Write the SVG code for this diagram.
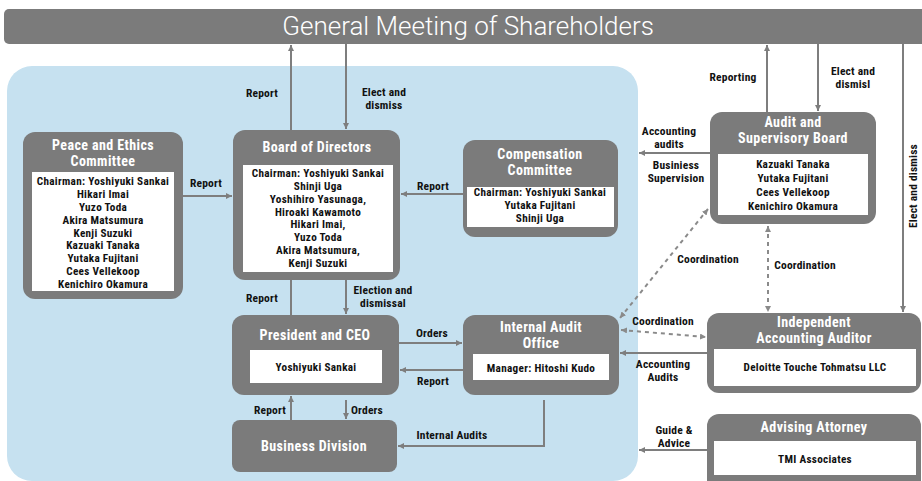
<svg xmlns="http://www.w3.org/2000/svg" width="922" height="481" viewBox="0 0 922 481">
<style>
.box{fill:#7b7b7b}
.in{fill:#ffffff}
.t{font-family:"Roboto Condensed","DejaVu Sans Condensed","Liberation Sans Narrow",Roboto,sans-serif;font-weight:bold;fill:#ffffff;font-size:14px;letter-spacing:0.4px;text-anchor:middle}
.m{font-family:"Roboto Condensed","DejaVu Sans Condensed","Liberation Sans Narrow",Roboto,sans-serif;font-weight:bold;fill:#111111;font-size:11.2px;letter-spacing:0.3px;text-anchor:middle}
.l{font-family:"Roboto Condensed","DejaVu Sans Condensed","Liberation Sans Narrow",Roboto,sans-serif;font-weight:bold;fill:#111111;font-size:11.5px;letter-spacing:0.2px;text-anchor:middle}
.c{stroke:#7e7e7e;stroke-width:2;fill:none}
.d{stroke:#8a8a8a;stroke-width:2;fill:none;stroke-dasharray:4 4}
</style>
<defs>
<marker id="a" viewBox="0 0 6 6" refX="6" refY="3" markerWidth="6" markerHeight="6" markerUnits="userSpaceOnUse" orient="auto"><path d="M0,0 L6,3 L0,6 z" fill="#7e7e7e"/></marker>
<marker id="ad" viewBox="0 0 6 6" refX="6" refY="3" markerWidth="6" markerHeight="6" markerUnits="userSpaceOnUse" orient="auto-start-reverse"><path d="M0,0 L6,3 L0,6 z" fill="#8a8a8a"/></marker>
</defs>
<rect x="7" y="66" width="631" height="415" rx="25" fill="#c6e1f0"/>
<g id="gm">
<rect x="4" y="9" width="930" height="35" rx="5" class="box"/>
<text x="468" y="35" font-family="Roboto,'Open Sans',sans-serif" font-weight="300" font-size="26" fill="#ffffff" text-anchor="middle">General Meeting of Shareholders</text>
</g>
<g id="connectors">
<line x1="291" y1="130" x2="291" y2="45" class="c" marker-end="url(#a)"/>
<line x1="346" y1="44" x2="346" y2="129" class="c" marker-end="url(#a)"/>
<line x1="183" y1="196" x2="232" y2="196" class="c" marker-end="url(#a)"/>
<line x1="463" y1="194" x2="401" y2="194" class="c" marker-end="url(#a)"/>
<line x1="291" y1="315" x2="291" y2="280" class="c"/>
<line x1="346" y1="280" x2="346" y2="314" class="c" marker-end="url(#a)"/>
<line x1="399" y1="343" x2="462" y2="343" class="c" marker-end="url(#a)"/>
<line x1="463" y1="370" x2="400" y2="370" class="c" marker-end="url(#a)"/>
<line x1="291" y1="420" x2="291" y2="396" class="c" marker-end="url(#a)"/>
<line x1="346" y1="400" x2="346" y2="419" class="c" marker-end="url(#a)"/>
<polyline points="544,400 544,446 398,446" class="c" marker-end="url(#a)"/>
<line x1="710" y1="153" x2="639" y2="153" class="c" marker-end="url(#a)"/>
<line x1="767" y1="112" x2="767" y2="45" class="c" marker-end="url(#a)"/>
<line x1="818" y1="44" x2="818" y2="111" class="c" marker-end="url(#a)"/>
<line x1="903" y1="44" x2="903" y2="312" class="c" marker-end="url(#a)"/>
<line x1="707" y1="353" x2="620" y2="353" class="c" marker-end="url(#a)"/>
<line x1="707" y1="450" x2="639" y2="450" class="c" marker-end="url(#a)"/>
<line x1="708" y1="209" x2="620" y2="318" class="d" marker-start="url(#ad)" marker-end="url(#ad)"/>
<line x1="768" y1="226" x2="768" y2="312" class="d" marker-start="url(#ad)" marker-end="url(#ad)"/>
<line x1="621" y1="330" x2="706" y2="337" class="d" marker-start="url(#ad)" marker-end="url(#ad)"/>
<text class="l" x="262" y="97">Report</text>
<text class="l" x="384" y="96">Elect and</text>
<text class="l" x="384" y="109">dismiss</text>
<text class="l" x="206" y="187">Report</text>
<text class="l" x="433" y="190">Report</text>
<text class="l" x="262" y="302">Report</text>
<text class="l" x="383" y="294">Election and</text>
<text class="l" x="383" y="307">dismissal</text>
<text class="l" x="432" y="337">Orders</text>
<text class="l" x="433" y="385">Report</text>
<text class="l" x="270" y="414">Report</text>
<text class="l" x="367" y="414">Orders</text>
<text class="l" x="452" y="439">Internal Audits</text>
<text class="l" x="669" y="135">Accounting</text>
<text class="l" x="669" y="148">audits</text>
<text class="l" x="676" y="169">Businiess</text>
<text class="l" x="676" y="182">Supervision</text>
<text class="l" x="733" y="81">Reporting</text>
<text class="l" x="853" y="75">Elect and</text>
<text class="l" x="853" y="88">dismisl</text>
<text class="l" x="913" y="186" transform="rotate(-90 913 186)" dy="4">Elect and dismiss</text>
<text class="l" x="708" y="263">Coordination</text>
<text class="l" x="805" y="269">Coordination</text>
<text class="l" x="663" y="325">Coordination</text>
<text class="l" x="663" y="368">Accounting</text>
<text class="l" x="663" y="381">Audits</text>
<text class="l" x="674" y="434">Guide &amp;</text>
<text class="l" x="674" y="447">Advice</text>
</g>
<g id="peace">
<rect x="23" y="132" width="160" height="167" rx="12" class="box"/>
<text class="t" x="103" y="150">Peace and Ethics</text>
<text class="t" x="103" y="166">Committee</text>
<rect x="32" y="172" width="142" height="119" class="in"/>
<text class="m" x="103" y="185">Chairman: Yoshiyuki Sankai</text>
<text class="m" x="103" y="197.9">Hikari Imai</text>
<text class="m" x="103" y="210.8">Yuzo Toda</text>
<text class="m" x="103" y="223.6">Akira Matsumura</text>
<text class="m" x="103" y="236.5">Kenji Suzuki</text>
<text class="m" x="103" y="249.4">Kazuaki Tanaka</text>
<text class="m" x="103" y="262.3">Yutaka Fujitani</text>
<text class="m" x="103" y="275.1">Cees Vellekoop</text>
<text class="m" x="103" y="288">Kenichiro Okamura</text>
</g>
<g id="board">
<rect x="233" y="130" width="167" height="150" rx="12" class="box"/>
<text class="t" x="317" y="152">Board of Directors</text>
<rect x="243" y="165" width="150" height="107" class="in"/>
<text class="m" x="318" y="177">Chairman: Yoshiyuki Sankai</text>
<text class="m" x="318" y="189.9">Shinji Uga</text>
<text class="m" x="318" y="202.7">Yoshihiro Yasunaga,</text>
<text class="m" x="318" y="215.6">Hiroaki Kawamoto</text>
<text class="m" x="318" y="228.4">Hikari Imai,</text>
<text class="m" x="318" y="241.3">Yuzo Toda</text>
<text class="m" x="318" y="254.1">Akira Matsumura,</text>
<text class="m" x="318" y="267">Kenji Suzuki</text>
</g>
<g id="comp">
<rect x="463" y="140" width="155" height="97" rx="12" class="box"/>
<text class="t" x="540" y="159">Compensation</text>
<text class="t" x="540" y="175">Committee</text>
<rect x="467" y="187" width="147" height="40" class="in"/>
<text class="m" x="540" y="196">Chairman: Yoshiyuki Sankai</text>
<text class="m" x="540" y="209">Yutaka Fujitani</text>
<text class="m" x="540" y="222">Shinji Uga</text>
</g>
<g id="audit">
<rect x="710" y="112" width="166" height="112" rx="12" class="box"/>
<text class="t" x="793" y="127">Audit and</text>
<text class="t" x="793" y="143">Supervisory Board</text>
<rect x="718" y="154" width="150" height="61" class="in"/>
<text class="m" x="793" y="168">Kazuaki Tanaka</text>
<text class="m" x="793" y="181.5">Yutaka Fujitani</text>
<text class="m" x="793" y="195.5">Cees Vellekoop</text>
<text class="m" x="793" y="209.5">Kenichiro Okamura</text>
</g>
<g id="president">
<rect x="232" y="315" width="167" height="80" rx="12" class="box"/>
<text class="t" x="315" y="340">President and CEO</text>
<rect x="250" y="350" width="132" height="33" class="in"/>
<text class="m" x="316" y="371">Yoshiyuki Sankai</text>
</g>
<g id="iao">
<rect x="463" y="315" width="156" height="80" rx="12" class="box"/>
<text class="t" x="541" y="332">Internal Audit</text>
<text class="t" x="541" y="348">Office</text>
<rect x="473" y="354" width="136" height="26" class="in"/>
<text class="m" x="541" y="372">Manager: Hitoshi Kudo</text>
</g>
<g id="business">
<rect x="232" y="420" width="165" height="52" rx="8" class="box"/>
<text class="t" x="314" y="451">Business Division</text>
</g>
<g id="auditor">
<rect x="707" y="313" width="214" height="80" rx="12" class="box"/>
<text class="t" x="814" y="327">Independent</text>
<text class="t" x="814" y="343">Accounting Auditor</text>
<rect x="714" y="349" width="202" height="37" class="in"/>
<text class="m" x="815" y="371">Deloitte Touche Tohmatsu LLC</text>
</g>
<g id="attorney">
<rect x="707" y="414" width="214" height="80" rx="12" class="box"/>
<text class="t" x="814" y="432">Advising Attorney</text>
<rect x="714" y="441" width="202" height="34" class="in"/>
<text class="m" x="815" y="463">TMI Associates</text>
</g>
</svg>
